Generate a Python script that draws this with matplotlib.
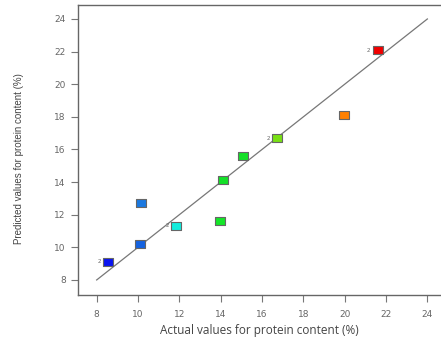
import matplotlib
matplotlib.use('Agg')
import matplotlib.pyplot as plt

# actual vs predicted protein content (%)
actual    = [8.56, 10.16, 10.10, 11.84, 13.97, 14.12, 15.08, 16.74, 19.95, 21.59]
predicted = [9.12, 12.72, 10.20, 11.31, 11.64, 14.13, 15.59, 16.69, 18.12, 22.07]
colors    = ['#0a14f0', '#1a78e0', '#1462e0', '#14ecdc', '#14e628', '#14e028',
             '#14e028', '#78e014', '#ff8000', '#f00000']
labels    = ['2', '', '', '2', '', '', '', '2', '', '2']
line_ends = [8, 24]
ticks     = [8, 10, 12, 14, 16, 18, 20, 22, 24]

fig = plt.figure(figsize=(4.41, 3.41), dpi=100)
ax = fig.add_axes([0.1775, 0.135, 0.8225, 0.851])

ax.plot(line_ends, line_ends, color='#777777', lw=0.9, zorder=1)

rect = [(-1, -0.8), (1, -0.8), (1, 0.8), (-1, 0.8), (-1, -0.8)]
for x, y, c, lab in zip(actual, predicted, colors, labels):
    ax.plot(x, y, marker=rect, ms=7.5, mfc=c, mec='#666666', mew=0.8, ls='none', zorder=3)
    if lab:
        ax.annotate(lab, (x, y), xytext=(-6.5, 0), textcoords='offset points',
                    fontsize=4, color='#666666', ha='center', va='center')

ax.set_xlim(7.11, 24.66)
ax.set_ylim(7.08, 24.87)
ax.set_xticks(ticks)
ax.set_yticks(ticks)
ax.tick_params(colors='#777777', labelcolor='#666666', labelsize=6.5, length=5, width=0.8)
ax.tick_params(axis='x', pad=5.5)
ax.tick_params(axis='y', pad=4)
ax.spines['right'].set_visible(False)
for s in ['left', 'bottom', 'top']:
    ax.spines[s].set_color('#666666')
    ax.spines[s].set_linewidth(1.0)

ax.set_xlabel('Actual values for protein content (%)', fontsize=8.5, color='#444444',
              family=['Open Sans', 'DejaVu Sans'], labelpad=4)
ax.set_ylabel('Predicted values for protein content (%)', fontsize=7, color='#444444',
              family=['Liberation Sans', 'DejaVu Sans'])
ax.yaxis.set_label_coords(-0.15, 0.47)

plt.savefig('out.png', dpi=100)
